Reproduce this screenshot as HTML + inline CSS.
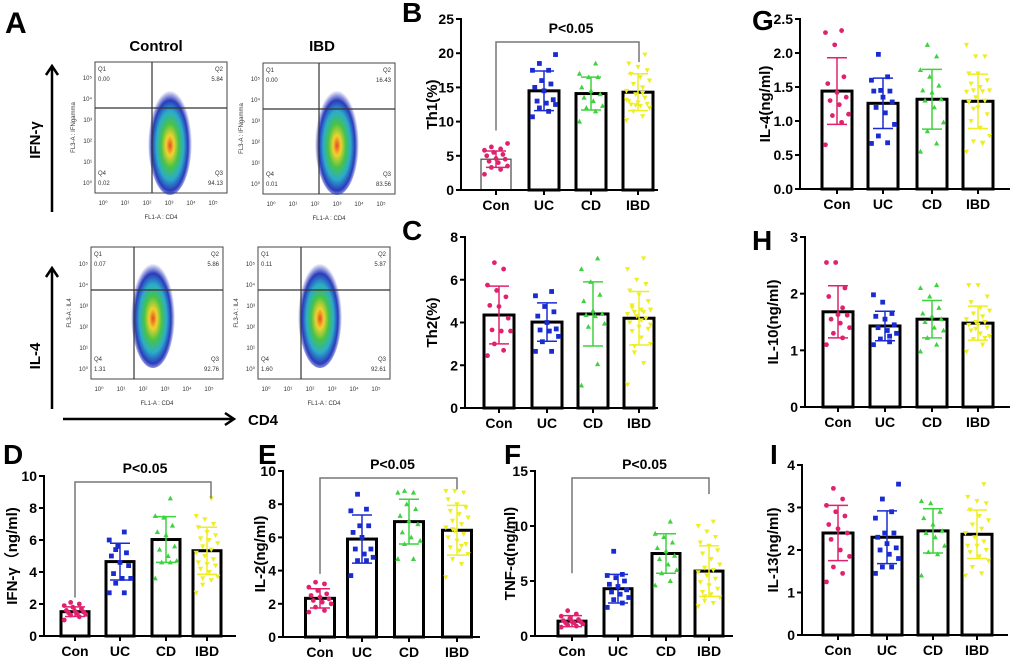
<!DOCTYPE html>
<html><head><meta charset="utf-8">
<style>
html,body{margin:0;padding:0;background:#fff;}
svg{display:block;font-family:"Liberation Sans",Arial,sans-serif;}
</style></head>
<body>
<svg id="fig" width="1020" height="663" viewBox="0 0 1020 663">
<defs>
<radialGradient id="dens" cx="50%" cy="55%" r="50%">
<stop offset="0" stop-color="#e8401c"/>
<stop offset="0.18" stop-color="#f0d020"/>
<stop offset="0.4" stop-color="#3cc040"/>
<stop offset="0.62" stop-color="#20a8c8"/>
<stop offset="0.82" stop-color="#2030b8"/>
<stop offset="1" stop-color="#2030b8" stop-opacity="0"/>
</radialGradient>
</defs>
<g id="panelA"></g>
<g id="charts"></g>
</svg>
<script>
// ---------- chart data ----------
const groups = ["Con","UC","CD","IBD"];
const th1Mean=[4.5,14.5,14.1,14.3], th1Sd=[1.2,2.9,2.4,2.7];
const th1Con=[2.3,3,3.3,3.5,4,4.2,4.5,4.6,5,5.2,5.5,5.8,6,6.3,6.8];
const th1UC=[10.7,11.5,12,12.5,12.7,13,13.2,14.5,15,15.5,16,17.5,17.5,18.5,19.8];
const th1CD=[10,11.5,12,12.3,13,13.5,14,14.5,15,16.5,16.5,17,18.5];
const th1IBD=[10.2,10.8,11.5,12,12.3,12.5,12.6,12.8,13,13.5,14,14.5,15,15.5,16,16.5,17,17.5,18,18.5,19.8,12.4,13.2,14.2];
const th1Ticks=[0,5,10,15,20,25];

const th2Mean=[4.35,4.02,4.4,4.2], th2Sd=[1.35,0.9,1.5,1.25];
const th2Con=[2.45,2.7,3.0,3.6,3.6,3.65,4.2,4.75,4.8,5.2,5.5,5.75,6.5,6.8];
const th2UC=[2.65,2.65,3.1,3.35,3.6,3.65,3.7,4.0,4.3,4.5,4.75,5.25,5.45];
const th2CD=[1.05,2.05,3.8,3.95,4.3,4.35,4.4,4.55,5.0,5.3,5.9,6.5,7.0];
const th2IBD=[1.1,2.1,2.6,3.0,3.3,3.6,3.7,3.8,4.0,4.2,4.3,4.4,4.5,4.5,4.6,4.6,4.7,5.0,5.3,5.5,5.8,6.0,6.5,7.0,2.9,3.9,4.1,4.8];
const th2Ticks=[0,2,4,6,8];

const il4Mean=[1.44,1.26,1.32,1.29], il4Sd=[0.49,0.37,0.44,0.4];
const il4Con=[0.65,0.98,1.08,1.1,1.24,1.3,1.35,1.42,1.55,1.65,2.12,2.3,2.33];
const il4UC=[0.67,0.68,0.78,0.95,1.12,1.2,1.28,1.35,1.44,1.44,1.45,1.6,1.65,1.98];
const il4CD=[0.55,0.67,0.85,0.98,1.2,1.3,1.32,1.42,1.45,1.52,1.65,1.75,1.95,2.12];
const il4IBD=[0.55,0.67,0.7,0.78,0.9,1.0,1.1,1.2,1.28,1.3,1.35,1.43,1.44,1.45,1.45,1.5,1.55,1.6,1.7,1.7,1.95,1.95,2.12,0.68,1.18];
const il4Ticks=[0,0.5,1.0,1.5,2.0,2.5];

const il10Mean=[1.68,1.43,1.55,1.48], il10Sd=[0.46,0.26,0.33,0.3];
const il10Con=[1.1,1.22,1.3,1.4,1.48,1.55,1.62,1.63,1.95,2.1,2.55,2.55,1.75];
const il10UC=[1.1,1.15,1.2,1.3,1.35,1.4,1.45,1.55,1.6,1.65,1.85,1.98,1.25];
const il10CD=[0.98,1.1,1.22,1.35,1.4,1.5,1.55,1.6,1.65,1.75,1.95,2.1,2.15];
const il10IBD=[0.98,1.1,1.2,1.25,1.3,1.35,1.4,1.45,1.45,1.5,1.5,1.55,1.6,1.65,1.7,1.75,1.85,1.95,2.15,2.15,1.22,1.38];
const il10Ticks=[0,1,2,3];

const ifnMean=[1.52,4.65,6.03,5.33], ifnSd=[0.3,1.15,1.43,1.47];
const ifnCon=[1.0,1.2,1.3,1.35,1.4,1.45,1.5,1.55,1.6,1.7,1.8,1.9,2.0,2.1];
const ifnUC=[2.7,2.7,3.3,3.6,3.6,3.9,4.4,4.6,5.0,5.2,5.6,6.0,6.5,5.4];
const ifnCD=[3.6,4.6,4.6,4.7,5.0,5.4,5.6,6.3,6.5,6.9,7.4,7.5,8.6];
const ifnIBD=[2.7,3.5,3.6,3.7,4.0,4.2,4.4,4.5,4.6,4.8,5.0,5.2,5.4,5.6,5.8,6.0,6.1,6.3,6.5,6.8,7.0,7.3,7.5,8.6,3.2];
const ifnTicks=[0,2,4,6,8,10];

const il2Mean=[2.33,5.9,6.95,6.43], il2Sd=[0.58,1.45,1.35,1.5];
const il2Con=[1.5,1.6,1.8,2.0,2.1,2.2,2.3,2.4,2.5,2.6,2.8,3.0,3.2,3.3];
const il2UC=[3.7,4.6,4.6,4.8,5.0,5.3,5.3,6.0,6.3,6.7,6.7,7.6,7.7,8.6];
const il2CD=[4.7,4.7,5.6,5.8,6.0,6.3,6.8,7.0,7.3,7.7,8.0,8.7,8.7,8.8];
const il2IBD=[3.6,4.4,4.7,5.0,5.2,5.4,5.6,5.8,6.0,6.2,6.4,6.6,6.8,7.0,7.2,7.4,7.6,7.8,8.0,8.3,8.7,8.8,8.8,5.5,6.5];
const il2Ticks=[0,2,4,6,8,10];

const tnfMean=[1.35,4.3,7.5,5.9], tnfSd=[0.5,1.3,1.8,2.3];
const tnfCon=[0.8,0.9,1.0,1.1,1.2,1.2,1.3,1.3,1.4,1.5,1.6,1.8,2.0,2.3];
const tnfUC=[2.6,3.0,3.3,3.5,3.8,4.0,4.2,4.5,4.7,5.0,5.3,5.5,5.6,7.7];
const tnfCD=[4.6,5.0,5.7,6.0,6.5,7.0,7.3,7.7,8.0,8.5,9.0,9.3,10.4];
const tnfIBD=[2.7,3.0,3.2,3.5,3.8,4.0,4.3,4.6,4.9,5.2,5.5,5.8,6.0,6.2,6.5,7.0,7.5,7.8,8.2,8.5,9.0,9.5,10.0,10.4,3.6];
const tnfTicks=[0,5,10,15];

const il13Mean=[2.4,2.3,2.45,2.37], il13Sd=[0.65,0.62,0.52,0.57];
const il13Con=[1.25,1.45,1.6,1.85,2.0,2.25,2.4,2.5,2.6,2.8,2.9,3.05,3.2,3.45];
const il13UC=[1.45,1.6,1.6,1.8,1.9,2.0,2.05,2.15,2.3,2.4,2.4,2.75,2.9,3.2,3.55];
const il13CD=[1.4,1.9,1.95,2.1,2.3,2.4,2.45,2.6,2.75,2.9,3.1,3.15];
const il13IBD=[1.4,1.45,1.6,1.75,1.85,1.95,2.0,2.1,2.1,2.2,2.3,2.4,2.5,2.6,2.7,2.8,2.95,3.1,3.15,3.25,3.55];
const il13Ticks=[0,1,2,3,4];

// ---------- drawing ----------
const NS="http://www.w3.org/2000/svg";
const colors=["#e0226e","#1a2bd0","#3fd23f","#eeee22"];
function mk(tag,attrs,parent){const e=document.createElementNS(NS,tag);for(const k in attrs)e.setAttribute(k,attrs[k]);parent.appendChild(e);return e;}
function txt(s,attrs,parent){const e=mk("text",attrs,parent);e.textContent=s;return e;}
function marker(g,shape,x,y,c){
  let e;
  if(shape===0){e=mk("circle",{cx:x,cy:y,r:2.4,fill:c},g);}
  else if(shape===1){e=mk("rect",{x:x-2.4,y:y-2.4,width:4.8,height:4.8,fill:c},g);}
  else if(shape===2){e=mk("polygon",{points:`${x},${y-2.8} ${x+2.6},${y+2} ${x-2.6},${y+2}`,fill:c},g);}
  else {e=mk("polygon",{points:`${x},${y+2.8} ${x+2.6},${y-2} ${x-2.6},${y-2}`,fill:c},g);}
  
  
}
function panel(cfg){
  const root=document.getElementById("charts");
  const g=mk("g",{},root);
  
  
  const ymax=cfg.ticks[cfg.ticks.length-1];
  const Y=v=>cfg.y0-(v/ymax)*(cfg.y0-cfg.yTop);
  const L=txt(cfg.letter,{x:cfg.lx,y:cfg.ly,"font-size":28,"font-weight":"bold",fill:"#000"},g);
  
  cfg.mean.forEach((m,i)=>{
    const cx=cfg.cx[i];
    const r=mk("rect",{x:cx-cfg.bw/2,y:Y(m),width:cfg.bw,height:cfg.y0-Y(m),fill:"#fff",stroke:(cfg.thinFirst&&i===0)?"#555":"#000","stroke-width":(cfg.thinFirst&&i===0)?1.3:3},g);
    
    
  });
  cfg.pts.forEach((arr,i)=>{
    arr.forEach((v,j)=>{
      const off=(((j*7)%11)-5)*cfg.bw/13;
      marker(g,i,cfg.cx[i]+off,Y(v),colors[i]);
    });
  });
  cfg.mean.forEach((m,i)=>{
    const cx=cfg.cx[i],c=colors[i];
    const eg=mk("g",{stroke:c,"stroke-width":1.5},g);
    
    
    mk("line",{x1:cx,x2:cx,y1:Y(m+cfg.sd[i]),y2:Y(m-cfg.sd[i])},eg);
    mk("line",{x1:cx-10,x2:cx+10,y1:Y(m+cfg.sd[i]),y2:Y(m+cfg.sd[i])},eg);
    mk("line",{x1:cx-10,x2:cx+10,y1:Y(m-cfg.sd[i]),y2:Y(m-cfg.sd[i])},eg);
  });
  const ax=mk("g",{stroke:"#000","stroke-width":2},g);
  
  mk("line",{x1:cfg.ax,x2:cfg.ax,y1:cfg.yTop-1,y2:cfg.y0+1},ax);
  mk("line",{x1:cfg.ax-1,x2:cfg.xend,y1:cfg.y0,y2:cfg.y0},ax);
  cfg.ticks.forEach(t=>{
    mk("line",{x1:cfg.ax-5,x2:cfg.ax,y1:Y(t),y2:Y(t)},ax);
    const tl=txt(t.toFixed(cfg.dec),{x:cfg.ax-7,y:Y(t)+5,"font-size":14,"font-weight":"bold","text-anchor":"end",fill:"#000"},g);
    
  });
  cfg.cx.forEach((cx,i)=>{
    mk("line",{x1:cx,x2:cx,y1:cfg.y0,y2:cfg.y0+5},ax);
    const xl=txt(groups[i],{x:cx,y:cfg.y0+20,"font-size":14,"font-weight":"bold","text-anchor":"middle",fill:"#000"},g);
    
  });
  const yt=txt(cfg.title,{x:0,y:0,"font-size":15,"font-weight":"bold","text-anchor":"middle",fill:"#000",transform:`translate(${cfg.tx},${(cfg.y0+cfg.yTop)/2}) rotate(-90)`},g);
  
  if(cfg.br){
    const b=cfg.br;
    const bg=mk("path",{d:`M${cfg.cx[0]},${Y(b.l)} V${b.y} H${cfg.cx[3]+b.dx} V${Y(b.r)}`,fill:"none",stroke:"#777","stroke-width":1.5},g);
    
    const pt=txt("P<0.05",{x:(cfg.cx[0]+cfg.cx[3])/2+4,y:b.y-9,"font-size":14,"font-weight":"bold","text-anchor":"middle",fill:"#000"},g);
    
  }
}
panel({name:"panel-b-th1",letter:"B",lx:402,ly:22,ax:461,y0:190,yTop:19,xend:658,cx:[496,544,591,638],bw:30,dec:0,ticks:th1Ticks,mean:th1Mean,sd:th1Sd,pts:[th1Con,th1UC,th1CD,th1IBD],title:"Th1(%)",tx:437,thinFirst:true,br:{y:42,l:8.7,r:18.7,dx:1}});
panel({name:"panel-c-th2",letter:"C",lx:402,ly:240,ax:465,y0:408,yTop:237,xend:658,cx:[499,547,593,639],bw:30,dec:0,ticks:th2Ticks,mean:th2Mean,sd:th2Sd,pts:[th2Con,th2UC,th2CD,th2IBD],title:"Th2(%)",tx:437});
panel({name:"panel-g-il4",letter:"G",lx:752,ly:30,ax:800,y0:189,yTop:19,xend:1010,cx:[837,883,932,978],bw:30,dec:1,ticks:il4Ticks,mean:il4Mean,sd:il4Sd,pts:[il4Con,il4UC,il4CD,il4IBD],title:"IL-4(ng/ml)",tx:770});
panel({name:"panel-h-il10",letter:"H",lx:752,ly:250,ax:805,y0:407,yTop:237,xend:1010,cx:[838,885,932,978],bw:30,dec:0,ticks:il10Ticks,mean:il10Mean,sd:il10Sd,pts:[il10Con,il10UC,il10CD,il10IBD],title:"IL-10(ng/ml)",tx:778});
panel({name:"panel-d-ifng",letter:"D",lx:3,ly:464,ax:44,y0:636,yTop:476,xend:236,cx:[75,120,166,207],bw:28,dec:0,ticks:ifnTicks,mean:ifnMean,sd:ifnSd,pts:[ifnCon,ifnUC,ifnCD,ifnIBD],title:"IFN-γ（ng/ml)",tx:17,br:{y:482,l:2.4,r:8.6,dx:4}});
panel({name:"panel-e-il2",letter:"E",lx:258,ly:464,ax:283,y0:637,yTop:471,xend:480,cx:[320,362,409,457],bw:29,dec:0,ticks:il2Ticks,mean:il2Mean,sd:il2Sd,pts:[il2Con,il2UC,il2CD,il2IBD],title:"IL-2(ng/ml)",tx:265,br:{y:478,l:3.8,r:8.9,dx:0}});
panel({name:"panel-f-tnfa",letter:"F",lx:504,ly:464,ax:535,y0:636,yTop:471,xend:733,cx:[572,618,666,709],bw:28,dec:0,ticks:tnfTicks,mean:tnfMean,sd:tnfSd,pts:[tnfCon,tnfUC,tnfCD,tnfIBD],title:"TNF-α(ng/ml)",tx:515,br:{y:478,l:5.7,r:12.9,dx:0}});
panel({name:"panel-i-il13",letter:"I",lx:770,ly:464,ax:802,y0:635,yTop:465,xend:1008,cx:[838,887,933,977],bw:30,dec:0,ticks:il13Ticks,mean:il13Mean,sd:il13Sd,pts:[il13Con,il13UC,il13CD,il13IBD],title:"IL-13(ng/ml)",tx:778});

// ---------- panel A flow plots ----------
const A=document.getElementById("panelA");
const la=txt("A",{x:5,y:33,"font-size":30,"font-weight":"bold"},A);

const t1=txt("Control",{x:156,y:51,"font-size":15,"font-weight":"bold","text-anchor":"middle"},A);

const t2=txt("IBD",{x:322,y:51,"font-size":15,"font-weight":"bold","text-anchor":"middle"},A);

const flows=[
 {x:95,y:62,w:132,h:131,vx:152,hy:108,bx:170,by:140,yl:"FL3-A : IFNgamma",q:["0.00","5.84","0.02","94.13"],n:"flow-control-ifng"},
 {x:263,y:63,w:132,h:131,vx:319,hy:109,bx:337,by:140,yl:"FL3-A : IFNgamma",q:["0.00","16.43","0.01","83.56"],n:"flow-ibd-ifng"},
 {x:91,y:247,w:132,h:132,vx:134,hy:290,bx:153,by:313,yl:"FL3-A : IL4",q:["0.07","5.86","1.31","92.76"],n:"flow-control-il4"},
 {x:258,y:247,w:132,h:132,vx:301,hy:290,bx:320,by:313,yl:"FL3-A : IL4",q:["0.11","5.87","1.60","92.61"],n:"flow-ibd-il4"}
];
const sup=["⁰","¹","²","³","⁴","⁵"];
flows.forEach(f=>{
  const g=mk("g",{},A);
  
  
  mk("rect",{x:f.x,y:f.y,width:f.w,height:f.h,fill:"#fff",stroke:"#444","stroke-width":1},g);
  mk("ellipse",{cx:f.bx,cy:f.by,rx:22,ry:55,fill:"url(#dens)",opacity:0.95},g);
  mk("line",{x1:f.vx,x2:f.vx,y1:f.y,y2:f.y+f.h,stroke:"#333","stroke-width":1.2},g);
  mk("line",{x1:f.x,x2:f.x+f.w,y1:f.hy,y2:f.hy,stroke:"#333","stroke-width":1.2},g);
  const st={"font-size":6,fill:"#333"};
  txt("Q1",{...st,x:f.x+3,y:f.y+9},g); txt(f.q[0],{...st,x:f.x+3,y:f.y+19},g);
  txt("Q2",{...st,x:f.x+f.w-4,y:f.y+9,"text-anchor":"end"},g); txt(f.q[1],{...st,x:f.x+f.w-4,y:f.y+19,"text-anchor":"end"},g);
  txt("Q4",{...st,x:f.x+3,y:f.y+f.h-18},g); txt(f.q[2],{...st,x:f.x+3,y:f.y+f.h-8},g);
  txt("Q3",{...st,x:f.x+f.w-4,y:f.y+f.h-18,"text-anchor":"end"},g); txt(f.q[3],{...st,x:f.x+f.w-4,y:f.y+f.h-8,"text-anchor":"end"},g);
  for(let i=0;i<6;i++){
    txt("10"+sup[i],{...st,x:f.x+8+i*22,y:f.y+f.h+12,"text-anchor":"middle"},g);
    txt("10"+sup[i],{...st,x:f.x-3,y:f.y+f.h-8-i*21,"text-anchor":"end"},g);
  }
  txt("FL1-A : CD4",{...st,x:f.x+f.w/2,y:f.y+f.h+26,"text-anchor":"middle"},g);
  txt(f.yl,{...st,"text-anchor":"middle",transform:`translate(${f.x-20},${f.y+f.h/2}) rotate(-90)`},g);
});
function arrow(x1,y1,x2,y2,name){
  const g=mk("g",{stroke:"#000","stroke-width":2.5,fill:"none"},A);
  
  mk("line",{x1,y1,x2,y2},g);
  if(x1===x2){mk("polyline",{points:`${x2-6},${y2+9} ${x2},${y2} ${x2+6},${y2+9}`},g);}
  else{mk("polyline",{points:`${x2-9},${y2-6} ${x2},${y2} ${x2-9},${y2+6}`},g);}
}
arrow(52,212,52,66,"ifng-axis-arrow");
arrow(52,409,52,268,"il4-axis-arrow");
arrow(63,419,234,419,"cd4-axis-arrow");
const l1=txt("IFN-γ",{"font-size":15,"font-weight":"bold","text-anchor":"middle",transform:"translate(40,140) rotate(-90)"},A);

const l2=txt("IL-4",{"font-size":15,"font-weight":"bold","text-anchor":"middle",transform:"translate(40,356) rotate(-90)"},A);

const l3=txt("CD4",{x:248,y:425,"font-size":15,"font-weight":"bold"},A);

</script>
</body></html>
